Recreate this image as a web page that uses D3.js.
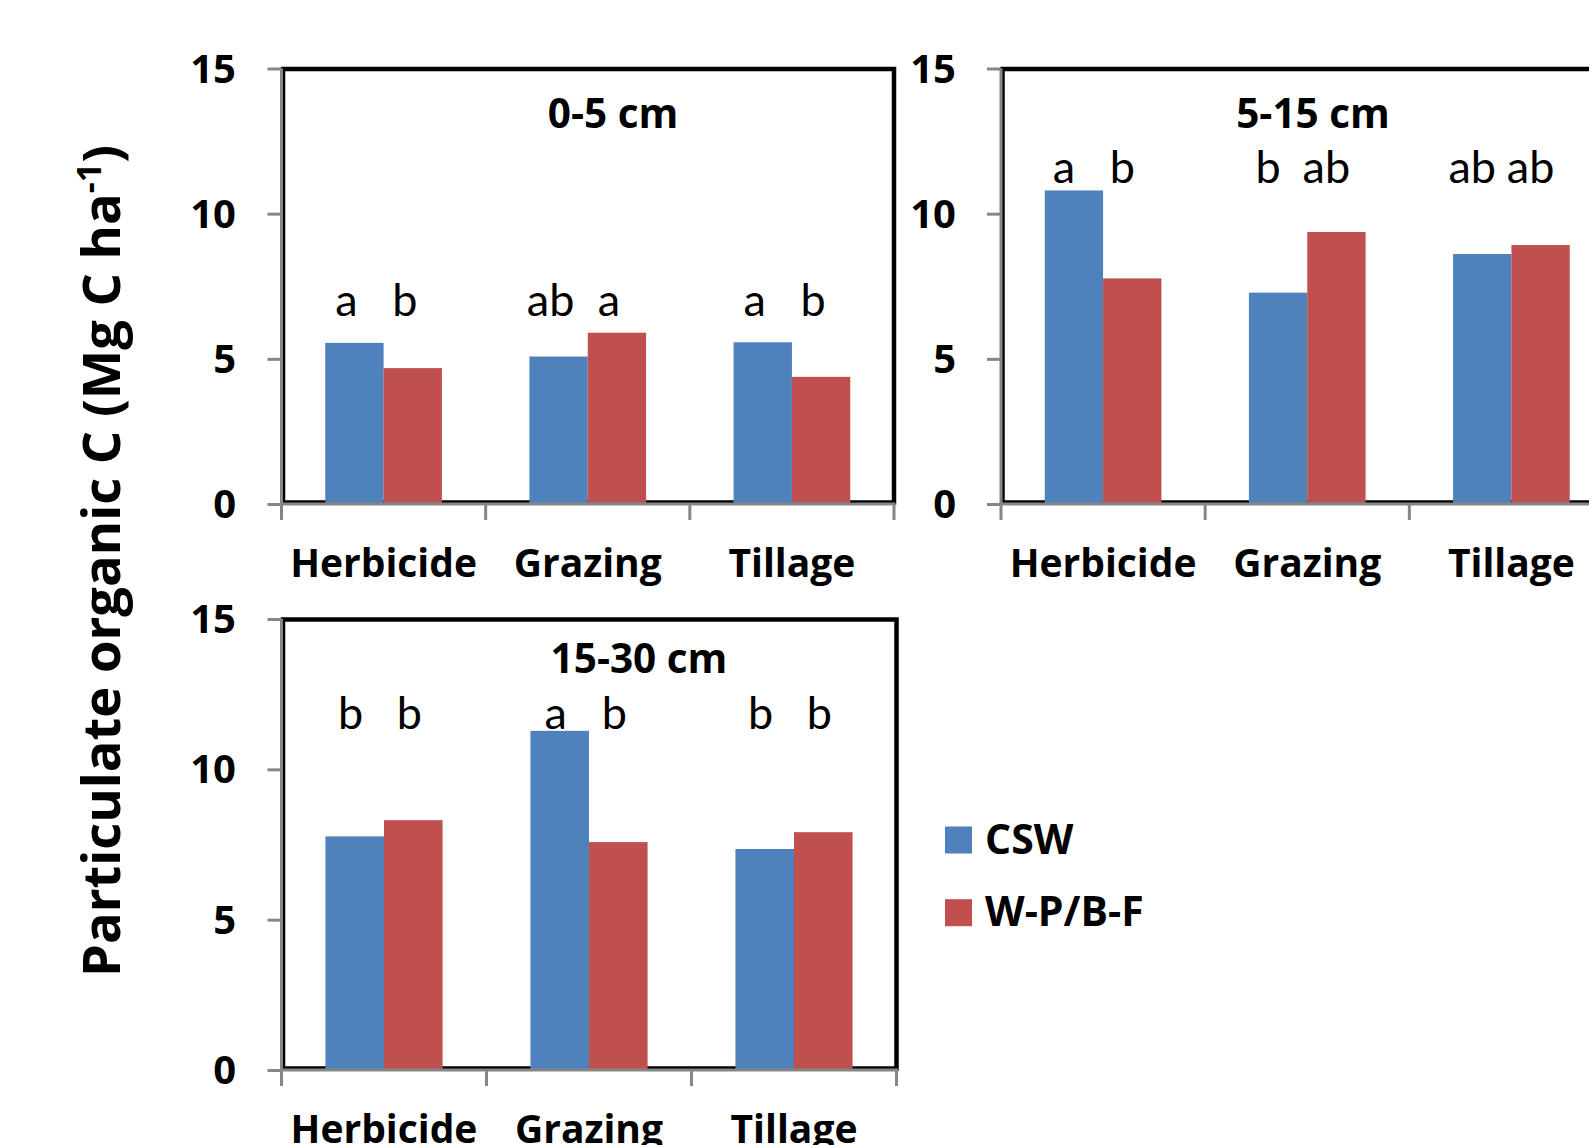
<!DOCTYPE html>
<html>
<head>
<meta charset="utf-8">
<script src="https://cdn.jsdelivr.net/npm/d3@7"></script>
<style>
  html, body { margin: 0; padding: 0; background: #fff; }
  svg { display: block; }
  text { font-family: Lato, "Open Sans", sans-serif; fill: #000; }
  text.bold { font-family: "Open Sans", Lato, sans-serif; font-weight: bold; }
</style>
</head>
<body>
<svg id="chart" width="1589" height="1145"></svg>
<script>
// ---------------- data ----------------
const categories = ["Herbicide", "Grazing", "Tillage"];
const seriesNames = ["CSW", "W-P/B-F"];
const depthTitles = ["0-5 cm", "5-15 cm", "15-30 cm"];
const yTickValues = [0, 5, 10, 15];

const csw_0_5   = [5.55, 5.08, 5.57];
const wpbf_0_5  = [4.68, 5.90, 4.38];
const csw_5_15  = [10.80, 7.28, 8.61];
const wpbf_5_15 = [7.77, 9.37, 8.92];
const csw_15_30 = [7.77, 11.28, 7.35];
const wpbf_15_30= [8.31, 7.58, 7.91];

const sig_0_5   = [["a","b"], ["ab","a"], ["a","b"]];
const sig_5_15  = [["a","b"], ["b","ab"], ["ab","ab"]];
const sig_15_30 = [["b","b"], ["a","b"], ["b","b"]];

// ---------------- layout ----------------
const colors = ["#4F81BD", "#C0504D"];
const svg = d3.select("#chart");

const panels = [
  { title: depthTitles[0], csw: csw_0_5,   wpbf: wpbf_0_5,   sig: sig_0_5,
    x0: 281.5, x1: 894, yTop: 68.5, yBot: 504, titleX: 613, titleY: 127.5, sigY: 316, sigDx: -8, tickX: 236 },
  { title: depthTitles[1], csw: csw_5_15,  wpbf: wpbf_5_15,  sig: sig_5_15,
    x0: 1001, x1: 1613.5, yTop: 68.5, yBot: 504, titleX: 1313, titleY: 127.5, sigY: 182.5, sigDx: -10, tickX: 956 },
  { title: depthTitles[2], csw: csw_15_30, wpbf: wpbf_15_30, sig: sig_15_30,
    x0: 281.5, x1: 896.5, yTop: 619, yBot: 1070, titleX: 639, titleY: 673, sigY: 728.5, sigDx: -4, tickX: 236 }
];

panels.forEach(p => {
  const g = svg.append("g");
  const x = d3.scaleBand().domain(categories).range([p.x0, p.x1]).paddingInner(0).paddingOuter(0);
  const xs = d3.scaleBand().domain(seriesNames).range([0, x.bandwidth()]).paddingInner(0).paddingOuter(0.75);
  const y = d3.scaleLinear().domain([0, 15]).range([p.yBot, p.yTop]);

  // plot-area black border
  g.append("rect")
    .attr("x", p.x0 + 1.5).attr("y", y(15) + 0.5)
    .attr("width", p.x1 - p.x0 - 1.5).attr("height", y(0) - y(15) - 2)
    .attr("fill", "none").attr("stroke", "#000").attr("stroke-width", 4.5);

  // bars
  const rows = categories.map((c, i) => ({ cat: c, vals: [p.csw[i], p.wpbf[i]], sig: p.sig[i] }));
  const grp = g.selectAll("g.cat").data(rows).join("g")
    .attr("transform", d => `translate(${x(d.cat)},0)`);
  grp.selectAll("rect").data(d => d.vals.map((v, k) => ({ s: seriesNames[k], v, k })))
    .join("rect")
    .attr("x", d => xs(d.s)).attr("width", xs.bandwidth())
    .attr("y", d => y(d.v)).attr("height", d => y(0) - y(d.v))
    .attr("fill", d => colors[d.k]);

  // significance letters
  grp.selectAll("text.sig").data(d => d.sig.map((t, k) => ({ s: seriesNames[k], t })))
    .join("text").attr("class", "sig")
    .attr("x", d => xs(d.s) + xs.bandwidth() / 2 + p.sigDx)
    .attr("y", p.sigY)
    .attr("text-anchor", "middle")
    .attr("font-size", 45)
    .text(d => d.t);

  // y axis
  const yAxis = d3.axisLeft(y).tickValues(yTickValues).tickSize(14).tickFormat("");
  const ya = g.append("g").attr("transform", `translate(${p.x0},0)`).call(yAxis);
  ya.selectAll("path, line").attr("stroke", "#868686").attr("stroke-width", 3);
  ya.select("path").attr("d", `M0,${y(15)}V${y(0)}`);
  g.selectAll("text.ytick").data(yTickValues).join("text").attr("class", "ytick bold")
    .attr("x", p.tickX).attr("y", d => y(d) + 14)
    .attr("text-anchor", "end").attr("font-size", 40)
    .text(d => d);

  // x axis
  const xa = g.append("g").attr("transform", `translate(0,${p.yBot})`);
  xa.append("line").attr("x1", p.x0 - 1.5).attr("x2", p.x1 + 1.5).attr("y1", 0).attr("y2", 0)
    .attr("stroke", "#868686").attr("stroke-width", 3);
  const bounds = categories.map(c => x(c)).concat([p.x1]);
  xa.selectAll("line.xt").data(bounds).join("line").attr("class", "xt")
    .attr("x1", d => d).attr("x2", d => d).attr("y1", 0).attr("y2", 16)
    .attr("stroke", "#868686").attr("stroke-width", 3);
  xa.selectAll("text.xl").data(categories).join("text").attr("class", "xl bold")
    .attr("x", d => x(d) + x.bandwidth() / 2).attr("y", 73)
    .attr("text-anchor", "middle").attr("font-size", 39)
    .text(d => d);

  // title
  g.append("text").attr("class", "bold").attr("x", p.titleX).attr("y", p.titleY)
    .attr("text-anchor", "middle").attr("font-size", 40.5)
    .text(p.title);
});

// legend
const leg = svg.append("g");
seriesNames.forEach((s, i) => {
  leg.append("rect").attr("x", 945).attr("y", 826.5 + i * 72.7).attr("width", 27).attr("height", 27)
    .attr("fill", colors[i]);
  leg.append("text").attr("class", "bold").attr("x", 985).attr("y", 853.5 + i * 72.7)
    .attr("font-size", 41).text(s);
});

// y axis title
const yt = svg.append("text").attr("class", "bold")
  .attr("transform", "translate(120,561) rotate(-90)")
  .attr("text-anchor", "middle").attr("font-size", 52.5);
yt.append("tspan").text("Particulate organic C (Mg C ha");
yt.append("tspan").attr("font-size", 34).attr("dy", -19).text("-1");
yt.append("tspan").attr("dy", 19).text(")");
</script>
</body>
</html>
